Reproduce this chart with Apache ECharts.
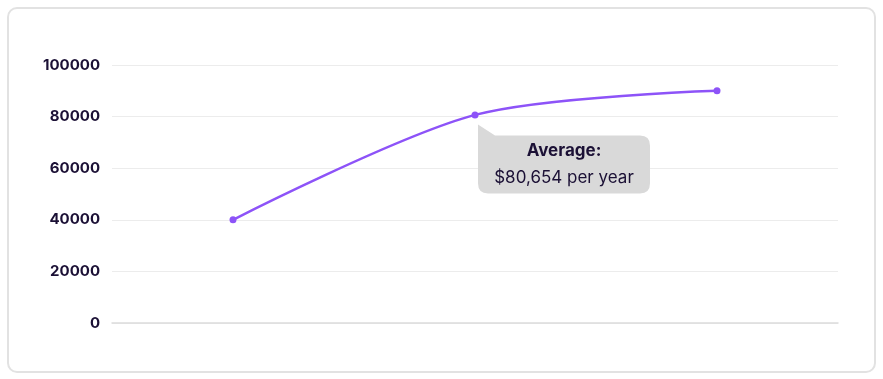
<!DOCTYPE html>
<html>
<head>
<meta charset="utf-8">
<script src="https://cdn.jsdelivr.net/npm/echarts@6/dist/echarts.min.js"></script>
<style>
html,body{margin:0;padding:0;background:#fff;}
#wrap{position:relative;width:883px;height:379px;}
#chart{position:absolute;left:0;top:0;width:883px;height:379px;}
#frame{position:absolute;left:7px;top:7px;width:865px;height:362px;border:2px solid #e2e2e2;border-radius:10px;pointer-events:none;}
</style>
</head>
<body>
<div id="wrap"><div id="chart"></div><div id="frame"></div></div>
<script>
const categories = ['Low', 'Average', 'High'];
const salaryValues = [40000, 80654, 90000];
const yTicks = [0, 20000, 40000, 60000, 80000, 100000];
const calloutTitle = 'Average:';
const calloutText = '$80,654 per year';

const chart = echarts.init(document.getElementById('chart'), null, {renderer: 'canvas'});
chart.setOption({
  animation: false,
  grid: {left: 112, right: 45, top: 65, bottom: 56, containLabel: false},
  xAxis: {
    type: 'category',
    data: categories,
    boundaryGap: true,
    axisLine: {show: true, lineStyle: {color: '#dcdcdc', width: 1.5}},
    axisTick: {show: false},
    axisLabel: {show: false}
  },
  yAxis: {
    type: 'value',
    min: yTicks[0],
    max: yTicks[yTicks.length - 1],
    interval: yTicks[1] - yTicks[0],
    axisLine: {show: false},
    axisTick: {show: false},
    axisLabel: {
      margin: 12,
      color: '#1b1035',
      fontFamily: 'Inter',
      fontWeight: 700,
      fontSize: 15,
      formatter: function (v) { return String(v); }
    },
    splitLine: {lineStyle: {color: '#ececec', width: 1}}
  },
  series: [{
    type: 'line',
    data: salaryValues,
    smooth: 0.3,
    symbol: 'circle',
    symbolSize: 7,
    lineStyle: {color: '#8d53f8', width: 2.5},
    itemStyle: {color: '#8d53f8'},
    markPoint: {
      symbol: 'path://M0 0 L17 11 L162 11 Q172 11 172 21 L172 58 Q172 68 162 68 L10 68 Q0 68 0 58 Z',
      symbolSize: [172, 69],
      symbolOffset: [89, 44],
      itemStyle: {color: '#d9d9d9'},
      label: {
        show: true,
        position: 'inside',
        offset: [0, 5],
        formatter: '{t|' + calloutTitle + '}\n{v|' + calloutText + '}',
        rich: {
          t: {fontFamily: 'Inter', fontWeight: 700, fontSize: 17, color: '#1b1035', lineHeight: 27, align: 'center'},
          v: {fontFamily: 'Inter', fontWeight: 400, fontSize: 17, color: '#1b1035', lineHeight: 27, align: 'center'}
        }
      },
      data: [{coord: [categories[1], salaryValues[1]]}]
    }
  }]
});
</script>
</body>
</html>
